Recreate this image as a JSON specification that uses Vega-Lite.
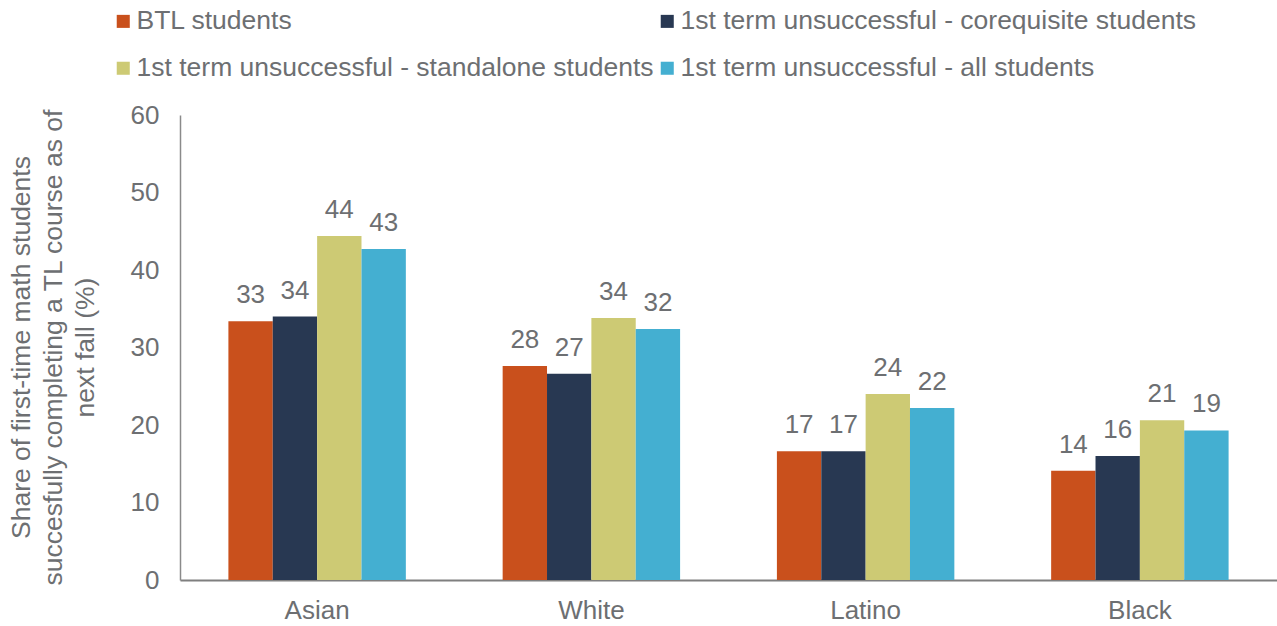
{
  "$schema": "https://vega.github.io/schema/vega-lite/v6.json",
  "width": 1097,
  "height": 465,
  "autosize": {"type": "none"},
  "padding": {"left": 180, "top": 115, "right": 0, "bottom": 46},
  "background": "white",
  "config": {"view": {"stroke": null}, "font": "Liberation Sans"},
  "data": {
    "values": [
      {"group": "Asian", "series": "BTL students", "value": 33.4},
      {"group": "Asian", "series": "1st term unsuccessful - corequisite students", "value": 34.0},
      {"group": "Asian", "series": "1st term unsuccessful - standalone students", "value": 44.4},
      {"group": "Asian", "series": "1st term unsuccessful - all students", "value": 42.7},
      {"group": "White", "series": "BTL students", "value": 27.6},
      {"group": "White", "series": "1st term unsuccessful - corequisite students", "value": 26.6},
      {"group": "White", "series": "1st term unsuccessful - standalone students", "value": 33.8},
      {"group": "White", "series": "1st term unsuccessful - all students", "value": 32.4},
      {"group": "Latino", "series": "BTL students", "value": 16.6},
      {"group": "Latino", "series": "1st term unsuccessful - corequisite students", "value": 16.6},
      {"group": "Latino", "series": "1st term unsuccessful - standalone students", "value": 24.0},
      {"group": "Latino", "series": "1st term unsuccessful - all students", "value": 22.2},
      {"group": "Black", "series": "BTL students", "value": 14.1},
      {"group": "Black", "series": "1st term unsuccessful - corequisite students", "value": 16.0},
      {"group": "Black", "series": "1st term unsuccessful - standalone students", "value": 20.6},
      {"group": "Black", "series": "1st term unsuccessful - all students", "value": 19.3}
    ]
  },
  "encoding": {
    "x": {
      "field": "group",
      "type": "nominal",
      "sort": ["Asian", "White", "Latino", "Black"],
      "scale": {"paddingInner": 0.353, "paddingOuter": 0.1765},
      "axis": {
        "title": null,
        "labelAngle": 0,
        "labelFontSize": 26,
        "labelColor": "#6d6f72",
        "labelPadding": 17,
        "ticks": false,
        "domainColor": "#7f7f7f",
        "domainWidth": 2
      }
    },
    "xOffset": {
      "field": "series",
      "sort": ["BTL students", "1st term unsuccessful - corequisite students", "1st term unsuccessful - standalone students", "1st term unsuccessful - all students"],
      "scale": {"paddingInner": 0, "paddingOuter": 0}
    },
    "y": {
      "field": "value",
      "type": "quantitative",
      "scale": {"domain": [0, 60], "nice": false},
      "axis": {
        "values": [0, 10, 20, 30, 40, 50, 60],
        "grid": false,
        "ticks": false,
        "labelFontSize": 26,
        "labelColor": "#6d6f72",
        "labelPadding": 21,
        "domainColor": "#8a8a8a",
        "domainWidth": 1.5,
        "title": ["Share of first-time math students", "succesfully completing a TL course as of", "next fall (%)"],
        "titleFontSize": 26.5,
        "titleFontWeight": "normal",
        "titleColor": "#6d6f72",
        "titleLineHeight": 32,
        "titleAngle": -90,
        "titleAlign": "center",
        "titleBaseline": "top",
        "titleX": -172,
        "titleY": 232
      }
    }
  },
  "layer": [
    {
      "mark": {"type": "bar"},
      "encoding": {
        "color": {
          "field": "series",
          "type": "nominal",
          "sort": ["BTL students", "1st term unsuccessful - corequisite students", "1st term unsuccessful - standalone students", "1st term unsuccessful - all students"],
          "scale": {
            "domain": ["BTL students", "1st term unsuccessful - corequisite students", "1st term unsuccessful - standalone students", "1st term unsuccessful - all students"],
            "range": ["#c9501c", "#283852", "#cdca74", "#44afd1"]
          },
          "legend": {
            "orient": "none",
            "direction": "horizontal",
            "legendX": -70,
            "legendY": -107,
            "columns": 2,
            "title": null,
            "symbolType": "square",
            "symbolSize": 170,
            "symbolStrokeWidth": 0,
            "symbolOpacity": 1,
            "labelFontSize": 26.5,
            "labelColor": "#6d6f72",
            "labelOffset": 0,
            "labelLimit": 1000,
            "columnPadding": -3,
            "rowPadding": 20
          }
        }
      }
    },
    {
      "mark": {"type": "text", "baseline": "alphabetic", "dy": -18, "fontSize": 26, "color": "#6d6f72"},
      "encoding": {
        "text": {"field": "value", "type": "quantitative", "format": ".0f"}
      }
    }
  ]
}
